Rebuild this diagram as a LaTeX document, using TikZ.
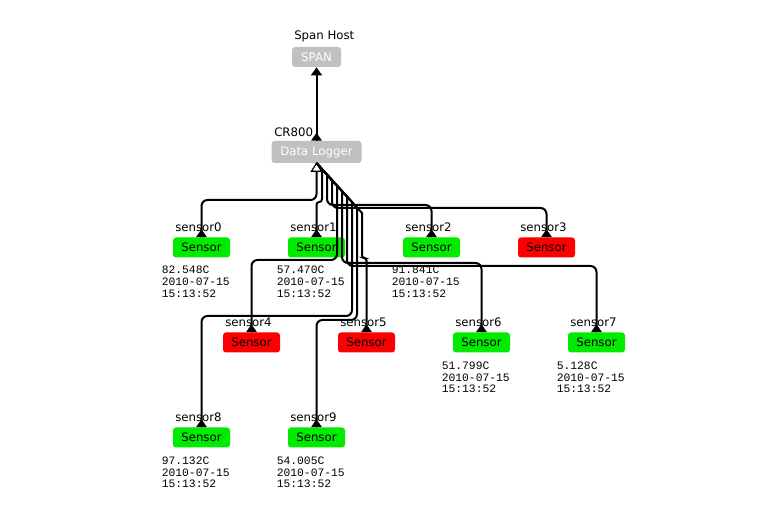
\documentclass[tikz,border=0pt]{standalone}
\usepackage{fontspec}
\setmainfont{DejaVu Sans}
\setmonofont{Liberation Mono}
\usetikzlibrary{arrows.meta,calc}
\definecolor{sgreen}{RGB}{0,235,0}
\definecolor{sred}{RGB}{250,0,0}
\definecolor{sgray}{RGB}{192,192,192}
\tikzset{
  pics/tri/.style={code={\fill (-5.5,0) -- (5.5,0) -- (0,-8) -- cycle;}},
}
\begin{document}
\begin{tikzpicture}[x=0.75pt,y=-0.75pt,
  box/.style={rounded corners=2.25pt, inner sep=0pt, minimum height=15pt, font=\fontsize{8.8}{10}\selectfont},
  sensorbox/.style={box, minimum width=42.75pt},
  ok/.style={sensorbox, fill=sgreen},
  bad/.style={sensorbox, fill=sred},
  graybox/.style={box, fill=sgray, text=white},
  lbl/.style={anchor=base west, inner sep=0pt, font=\fontsize{8.8}{10}\selectfont},
  data/.style={anchor=north west, inner sep=0pt, align=left, font=\ttfamily\fontsize{8.5}{8.75}\selectfont},
  wire/.style={line width=1.5pt},
  rc/.style={rounded corners=4.5pt},
]
\fill[white] (0,0) rectangle (758,516);
\useasboundingbox (0,0) rectangle (758,516);

% hosts
\node[graybox, minimum width=36.75pt] (span) at (316.5,57) {SPAN};
\node[lbl] (spanlbl) at (294,40) {Span Host};
\node[graybox, minimum width=67.5pt, minimum height=16.5pt] (lg) at (316.5,152) {Data Logger};
\node[lbl] (lglbl) at (274,137) {CR800};

% sensors row 1
\node[ok]  (s0) at (201.5,247.5) {Sensor};
\node[ok]  (s1) at (316.5,247.5) {Sensor};
\node[ok]  (s2) at (431.5,247.5) {Sensor};
\node[bad] (s3) at (546.5,247.5) {Sensor};
% row 2
\node[bad] (s4) at (251.5,342.5) {Sensor};
\node[bad] (s5) at (366.5,342.5) {Sensor};
\node[ok]  (s6) at (481.5,342.5) {Sensor};
\node[ok]  (s7) at (596.5,342.5) {Sensor};
% row 3
\node[ok]  (s8) at (201.5,437.5) {Sensor};
\node[ok]  (s9) at (316.5,437.5) {Sensor};

% labels
\node[lbl] (l0) at (175,232) {sensor0};
\node[lbl] (l1) at (290,232) {sensor1};
\node[lbl] (l2) at (405,232) {sensor2};
\node[lbl] (l3) at (520,232) {sensor3};
\node[lbl] (l4) at (225,327) {sensor4};
\node[lbl] (l5) at (340,327) {sensor5};
\node[lbl] (l6) at (455,327) {sensor6};
\node[lbl] (l7) at (570,327) {sensor7};
\node[lbl] (l8) at (175,422) {sensor8};
\node[lbl] (l9) at (290,422) {sensor9};

% readings
\node[data] (d0) at (161.5,266) {82.548C\\2010-07-15\\15:13:52};
\node[data] (d1) at (276.5,266) {57.470C\\2010-07-15\\15:13:52};
\node[data] (d2) at (391.5,266) {91.841C\\2010-07-15\\15:13:52};
\node[data] (d6) at (441.5,361.5) {51.799C\\2010-07-15\\15:13:52};
\node[data] (d7) at (556.5,361.5) {5.128C\\2010-07-15\\15:13:52};
\node[data] (d8) at (161.5,456.5) {97.132C\\2010-07-15\\15:13:52};
\node[data] (d9) at (276.5,456.5) {54.005C\\2010-07-15\\15:13:52};

% uplink
\draw[wire, -{Triangle[length=6pt,width=8pt]}] (lg.north) -- (span.south);
\pic at (lg.north) {tri};

% sensor wires
\draw[wire, rc] (lg.south) -- (316.5,200) -- (s0.north |- 0,200) -- (s0.north);
\draw[wire] (lg.south) -- (322,169) [rounded corners=2pt] -- (322,202) -- (s1.north |- 0,202) -- (s1.north);
\draw[wire] (lg.south) -- (327,174.6) [rc] -- (327,205) -- (s2.north |- 0,205) -- (s2.north);
\draw[wire] (lg.south) -- (332,180) [rc] -- (332,208) -- (s3.north |- 0,208) -- (s3.north);
\draw[wire] (lg.south) -- (337,185.6) [rc] -- (337,260) -- (s4.north |- 0,260) -- (s4.north);
\draw[wire] (lg.south) -- (342,191.1) [rc] -- (342,263) -- (s6.north |- 0,263) -- (s6.north);
\draw[wire] (lg.south) -- (347,196.6) [rc] -- (347,266) -- (s7.north |- 0,266) -- (s7.north);
\draw[wire] (lg.south) -- (352,202) [rc] -- (352,316) -- (s8.north |- 0,316) -- (s8.north);
\draw[wire] (lg.south) -- (357,207.6) [rc] -- (357,320) -- (s9.north |- 0,320) -- (s9.north);
\draw[wire] (lg.south) -- (362,213) [rounded corners=2pt] -- (362,258) -- (s5.north |- 0,258) -- (s5.north);

% arrow markers
\foreach \s in {s0,s1,s2,s3,s4,s5,s6,s7,s8,s9} {\pic at (\s.north) {tri};}
\filldraw[fill=white, line width=0.9pt, line join=miter] (lg.south) -- ++(-5,8) -- ++(10,0) -- cycle;
\end{tikzpicture}
\end{document}
